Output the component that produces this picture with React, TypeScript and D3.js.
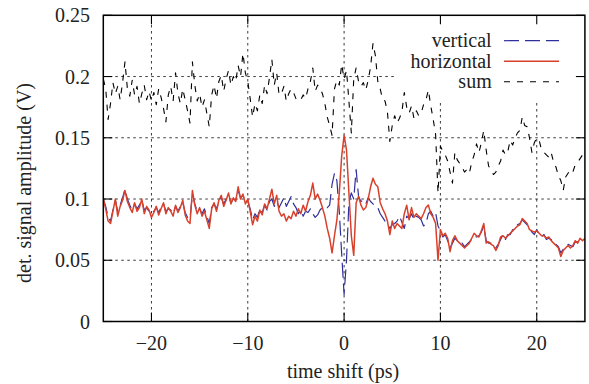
import React from "react";
import * as d3 from "d3";

const T0 = -25;
const DT = 0.25;

const horizontal = [
  0.100,0.092,0.082,0.080,0.090,0.100,0.086,0.094,0.099,0.107,0.098,0.093,0.089,0.097,0.090,0.093,0.100,0.088,0.094,0.091,
  0.085,0.089,0.094,0.087,0.092,0.097,0.088,0.093,0.090,0.086,0.095,0.089,0.093,0.099,0.087,0.082,0.080,0.107,0.095,0.088,
  0.093,0.086,0.090,0.083,0.076,0.092,0.097,0.090,0.099,0.103,0.094,0.099,0.105,0.096,0.101,0.098,0.110,0.100,0.104,0.096,
  0.100,0.090,0.079,0.086,0.082,0.091,0.087,0.096,0.092,0.100,0.108,0.096,0.103,0.090,0.086,0.088,0.082,0.086,0.084,0.090,
  0.086,0.092,0.088,0.095,0.090,0.098,0.103,0.113,0.100,0.104,0.099,0.093,0.086,0.076,0.068,0.056,0.070,0.083,0.105,0.135,
  0.152,0.140,0.105,0.070,0.054,0.097,0.102,0.095,0.091,0.093,0.100,0.110,0.117,0.112,0.110,0.097,0.092,0.088,0.082,0.071,
  0.082,0.076,0.080,0.078,0.076,0.088,0.095,0.083,0.093,0.085,0.088,0.086,0.084,0.088,0.093,0.095,0.088,0.085,0.080,0.050,
  0.075,0.070,0.072,0.068,0.057,0.066,0.070,0.066,0.064,0.062,0.060,0.062,0.064,0.068,0.072,0.070,0.069,0.074,0.080,0.064,
  0.065,0.063,0.062,0.058,0.062,0.069,0.070,0.068,0.070,0.072,0.074,0.076,0.078,0.079,0.084,0.082,0.080,0.075,0.074,0.073,
  0.074,0.072,0.070,0.070,0.068,0.069,0.066,0.064,0.062,0.060,0.053,0.058,0.060,0.062,0.060,0.062,0.066,0.064,0.068,0.066,
  0.068,
];

const vertical = [
  0.100,0.094,0.085,0.082,0.091,0.099,0.090,0.095,0.101,0.108,0.100,0.095,0.091,0.096,0.092,0.095,0.099,0.091,0.093,0.090,
  0.088,0.090,0.093,0.089,0.093,0.096,0.090,0.092,0.091,0.088,0.094,0.090,0.094,0.097,0.089,0.085,0.084,0.104,0.096,0.090,
  0.092,0.088,0.092,0.086,0.080,0.093,0.096,0.092,0.098,0.101,0.096,0.100,0.103,0.097,0.100,0.099,0.107,0.101,0.103,0.098,
  0.098,0.092,0.083,0.088,0.085,0.092,0.089,0.095,0.091,0.098,0.100,0.094,0.098,0.093,0.097,0.101,0.094,0.098,0.102,0.096,
  0.093,0.088,0.091,0.086,0.090,0.089,0.092,0.088,0.085,0.087,0.091,0.093,0.094,0.093,0.095,0.112,0.121,0.115,0.090,0.055,
  0.022,0.050,0.097,0.105,0.100,0.124,0.102,0.098,0.099,0.096,0.101,0.098,0.096,0.094,0.093,0.088,0.085,0.082,0.079,0.076,
  0.079,0.080,0.082,0.086,0.081,0.076,0.086,0.084,0.088,0.083,0.086,0.085,0.083,0.078,0.080,0.088,0.090,0.086,0.089,0.078,
  0.074,0.069,0.071,0.066,0.060,0.064,0.068,0.066,0.063,0.064,0.061,0.063,0.065,0.067,0.070,0.069,0.070,0.073,0.078,0.066,
  0.064,0.064,0.061,0.060,0.063,0.067,0.071,0.067,0.071,0.071,0.075,0.075,0.079,0.080,0.083,0.081,0.079,0.076,0.073,0.071,
  0.075,0.071,0.069,0.071,0.067,0.068,0.067,0.063,0.063,0.061,0.056,0.059,0.061,0.063,0.062,0.061,0.065,0.065,0.066,0.067,
  0.067,
];

const sum = [
  0.198,0.190,0.165,0.178,0.195,0.186,0.192,0.181,0.195,0.212,0.190,0.184,0.197,0.185,0.192,0.178,0.186,0.193,0.181,0.188,
  0.180,0.187,0.177,0.190,0.183,0.174,0.163,0.185,0.192,0.180,0.203,0.186,0.178,0.190,0.181,0.172,0.162,0.212,0.193,0.180,
  0.186,0.175,0.181,0.170,0.159,0.185,0.193,0.182,0.196,0.201,0.188,0.198,0.205,0.193,0.200,0.196,0.209,0.200,0.219,0.203,
  0.196,0.182,0.167,0.178,0.172,0.185,0.178,0.193,0.186,0.199,0.214,0.193,0.203,0.185,0.186,0.192,0.180,0.186,0.190,0.187,
  0.182,0.183,0.181,0.185,0.182,0.190,0.196,0.207,0.188,0.193,0.191,0.186,0.178,0.167,0.160,0.152,0.190,0.197,0.193,0.210,
  0.198,0.205,0.180,0.154,0.198,0.207,0.196,0.192,0.195,0.189,0.197,0.208,0.227,0.217,0.196,0.190,0.181,0.180,0.171,0.147,
  0.160,0.168,0.162,0.166,0.171,0.187,0.175,0.170,0.176,0.166,0.172,0.168,0.170,0.177,0.181,0.189,0.176,0.165,0.153,0.105,
  0.143,0.139,0.136,0.131,0.122,0.113,0.138,0.132,0.129,0.126,0.122,0.124,0.121,0.130,0.136,0.145,0.138,0.146,0.156,0.140,
  0.127,0.124,0.120,0.122,0.127,0.131,0.140,0.136,0.139,0.148,0.144,0.150,0.154,0.156,0.167,0.160,0.159,0.150,0.138,0.146,
  0.150,0.148,0.140,0.138,0.136,0.134,0.138,0.130,0.126,0.119,0.115,0.107,0.118,0.121,0.124,0.122,0.128,0.130,0.133,0.136,
  0.138,
];

const xTicks = [-20, -10, 0, 10, 20];
const yTicks = [0, 0.05, 0.1, 0.15, 0.2, 0.25];
const yTickLabels = ["0", "0.05", "0.1", "0.15", "0.2", "0.25"];
const seriesNames = ["vertical", "horizontal", "sum"];

const W = 589;
const H = 384;
const L = 103.3, R = 584.9, TOP = 15.3, BOT = 321.5;
const FONT = "Liberation Serif, DejaVu Serif, serif";

export default function App() {
  const x = d3.scaleLinear().domain([-25, 25]).range([L, R]);
  const y = d3.scaleLinear().domain([0, 0.25]).range([BOT, TOP]);
  const line = d3
    .line<number>()
    .x((_, i) => x(T0 + i * DT))
    .y((d) => y(d));

  const series = [
    { name: seriesNames[0], data: vertical, color: "#2f2f9c", dash: "15,6", width: 1.2 },
    { name: seriesNames[1], data: horizontal, color: "#d9402b", dash: undefined, width: 1.5 },
    { name: seriesNames[2], data: sum, color: "#000000", dash: "6,7", width: 1.1 },
  ];

  const fmtX = (v: number) => (v < 0 ? "\u2212" + Math.abs(v) : String(v));
  const legendY = [40.7, 61.2, 81.7];
  const txt = { fontFamily: FONT, fontSize: "20px", fill: "#222" } as React.CSSProperties;

  return (
    <svg
      width={W}
      height={H}
      style={{ position: "absolute", left: 0, top: 0, background: "#fff" }}
    >
      <defs>
        <clipPath id="plotclip">
          <rect x={L} y={TOP} width={R - L} height={BOT - TOP} />
        </clipPath>
      </defs>
      <rect x={0} y={0} width={W} height={H} fill="#fff" />
      {/* grid */}
      <g stroke="#222" strokeWidth={0.9} strokeDasharray="2.5,3.5">
        {xTicks.map((t) => (
          <line key={"gx" + t} x1={x(t)} x2={x(t)} y1={BOT} y2={TOP} />
        ))}
        {yTicks
          .filter((t) => t > 0 && t < 0.25)
          .map((t) => (
            <line key={"gy" + t} x1={L} x2={R} y1={y(t)} y2={y(t)} />
          ))}
      </g>
      {/* legend background */}
      <rect x={394} y={TOP} width={R - 394} height={101 - TOP} fill="#fff" />
      {/* data */}
      <g clipPath="url(#plotclip)" fill="none">
        {series.map((s) => (
          <path
            key={s.name}
            d={line(s.data) || ""}
            stroke={s.color}
            strokeWidth={s.width}
            strokeDasharray={s.dash}
            strokeLinejoin="round"
          />
        ))}
      </g>
      {/* ticks */}
      <g stroke="#000" strokeWidth={1.1}>
        {xTicks.map((t) => (
          <g key={"tx" + t}>
            <line x1={x(t)} x2={x(t)} y1={BOT} y2={BOT - 9} />
            <line x1={x(t)} x2={x(t)} y1={TOP} y2={TOP + 9} />
          </g>
        ))}
        {yTicks.map((t) => (
          <g key={"ty" + t}>
            <line x1={L} x2={L + 9} y1={y(t)} y2={y(t)} />
            <line x1={R} x2={R - 9} y1={y(t)} y2={y(t)} />
          </g>
        ))}
      </g>
      {/* border */}
      <rect x={L} y={TOP} width={R - L} height={BOT - TOP} fill="none" stroke="#000" strokeWidth={1.5} />
      {/* tick labels */}
      {xTicks.map((t) => (
        <text key={"lx" + t} x={x(t)} y={350} textAnchor="middle" style={txt}>
          {fmtX(t)}
        </text>
      ))}
      {yTicks.map((t, i) => (
        <text key={"ly" + t} x={90} y={y(t)} dy="0.35em" textAnchor="end" style={txt}>
          {yTickLabels[i]}
        </text>
      ))}
      <text x={343} y={378} textAnchor="middle" style={txt}>
        time shift (ps)
      </text>
      <text transform="translate(31,183) rotate(-90)" textAnchor="middle" style={txt}>
        det. signal amplitude (V)
      </text>
      {/* legend */}
      {series.map((s, i) => (
        <g key={"leg" + s.name}>
          <text x={491.7} y={legendY[i]} dy="0.33em" textAnchor="end" style={txt}>
            {s.name}
          </text>
          <line
            x1={504}
            x2={559}
            y1={legendY[i]}
            y2={legendY[i]}
            stroke={s.color}
            strokeWidth={s.width}
            strokeDasharray={s.dash}
          />
        </g>
      ))}
    </svg>
  );
}
